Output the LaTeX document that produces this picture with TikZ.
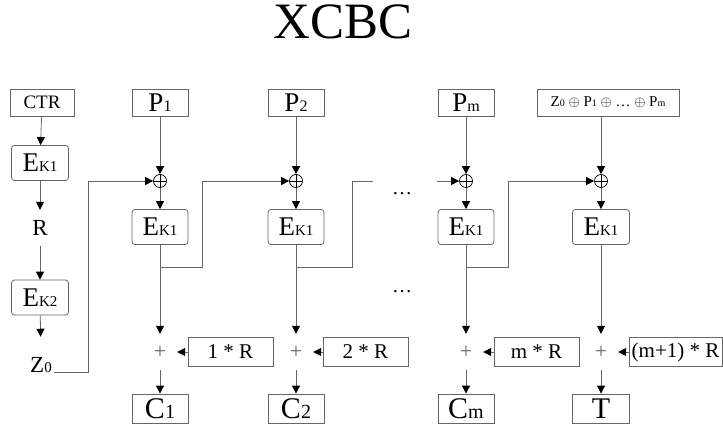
\documentclass[tikz,border=0pt]{standalone}
\usepackage{fontspec}
\setmainfont{Liberation Serif}
\usetikzlibrary{arrows.meta}
\newcommand{\fs}[1]{\fontsize{#1}{#1}\selectfont}
% letter with a small index set on the same baseline
\newcommand{\Ek}[1]{{\fs{27}E}{\fs{15}K#1}}
\newcommand{\Pt}[1]{{\fs{27}P}{\fs{16}#1}}
\newcommand{\Ct}[1]{{\fs{30}C}{\fs{20}#1}}
\newcommand{\zsub}[2]{{\fs{15}#1}{\fs{10}#2}}
\begin{document}
\begin{tikzpicture}[x=1pt,y=-1pt,
  wire/.style={draw=black!60, line width=0.8pt},
  arr/.style={wire, -{Triangle[length=8pt,width=8pt,color=black]}},
  sqbox/.style={draw=black!60, line width=0.8pt, inner sep=0pt, minimum height=27pt, minimum width=56pt},
  encbox/.style={draw=black!60, line width=0.8pt, rounded corners=3pt, inner sep=0pt, minimum width=57pt, minimum height=35pt},
  outbox/.style={sqbox, minimum height=29pt},
  multbox/.style={sqbox, minimum height=29pt, minimum width=85pt, font=\fs{21}},
  xor/.style={circle, draw=black, line width=0.7pt, minimum size=13pt, inner sep=0pt,
    path picture={\draw[line width=0.7pt] (path picture bounding box.north) -- (path picture bounding box.south)
      (path picture bounding box.west) -- (path picture bounding box.east);}},
  plusn/.style={minimum width=34pt, minimum height=36pt, inner sep=0pt, text=black!60, font=\fs{22}},
]
\path[use as bounding box] (0,0) rectangle (723,428);

\node[font=\fs{51}, anchor=base] (title) at (343,39) {XCBC};

% key derivation column
\node[sqbox, minimum width=64pt, font=\fs{19}] (ctr) at (42,102.5) {CTR};
\node[encbox] (ea) at (40,163) {\Ek1};
\node[font=\fs{23}, minimum height=36pt, inner sep=0pt] (r) at (40,228) {R};
\node[encbox] (eb) at (40,297.5) {\Ek2};
\node[inner sep=2pt, anchor=base] (z0) at (41,372) {{\fs{23}Z}{\fs{15}0}};
\draw[arr] (ctr) -- (ea);
\draw[arr] (ea) -- (r);
\draw[arr] (r) -- (eb);
\draw[arr, shorten >=18pt] (eb) -- (z0);

% block 1
\node[sqbox] (p1) at (160,102.5) {\Pt1};
\node[xor] (x1) at (160,181) {};
\node[encbox, minimum width=56pt] (e1) at (160,227) {\Ek1};
\node[plusn] (s1) at (160,352) {+};
\node[outbox] (c1) at (160,408.5) {\Ct1};
\node[multbox] (m1) at (230.5,352) {1 * R};

% block 2
\node[sqbox] (p2) at (296,102.5) {\Pt2};
\node[xor] (x2) at (296,181) {};
\node[encbox, minimum width=56pt] (e2) at (296,227) {\Ek1};
\node[plusn] (s2) at (296,352) {+};
\node[outbox] (c2) at (296,408.5) {\Ct2};
\node[multbox] (m2) at (365.5,352) {2 * R};

% block m
\node[sqbox] (pm) at (466,102.5) {\Pt{m}};
\node[xor] (xm) at (466,181) {};
\node[encbox, minimum width=56pt] (em) at (466,227) {\Ek1};
\node[plusn] (sm) at (466,352) {+};
\node[outbox] (cm) at (466,408.5) {\Ct{m}};
\node[multbox] (mm) at (536.5,352) {m * R};

% tag block
\node[sqbox, minimum width=142pt, font=\fs{15}] (zb) at (608,102.5)
  {\zsub Z0 $\oplus$ \zsub P1 $\oplus$ \dots{} $\oplus$ \zsub Pm};
\node[xor] (xt) at (601,181) {};
\node[encbox] (et) at (601,227) {\Ek1};
\node[plusn] (st) at (601,352) {+};
\node[outbox, minimum width=57pt] (tt) at (601,408.5) {{\fs{30}T}};
\node[multbox, minimum width=93pt] (mt) at (675.5,352) {(m+1) * R};

% ellipses
\node[font=\fs{20}, anchor=base, inner sep=0pt] (d1) at (402,194) {\dots};
\node[font=\fs{20}, anchor=base, inner sep=0pt] (d2) at (402,292) {\dots};

% vertical data path of each block
\foreach \p/\x/\e/\s/\c/\m in {p1/x1/e1/s1/c1/m1, p2/x2/e2/s2/c2/m2, pm/xm/em/sm/cm/mm} {
  \draw[arr] (\p) -- (\x);
  \draw[arr] (\x) -- (\e);
  \draw[arr] (\e) -- (\s);
  \draw[arr] (\s) -- (\c);
  \draw[arr] (\m) -- (\s);
}
\draw[arr] (zb.south -| xt) -- (xt);
\draw[arr] (xt) -- (et);
\draw[arr] (et) -- (st);
\draw[arr] (st) -- (tt);
\draw[arr] (mt) -- (st);

% chaining wires
\coordinate (tz) at (88,181);
\draw[arr] (z0.base east) -| (tz) -- (x1);
\coordinate (b1) at (160,267); \coordinate (t1) at (202,181);
\draw[arr] (b1) -| (t1) -- (x2);
\coordinate (b2) at (296,267); \coordinate (t2) at (352,181); \coordinate (g2) at (373,181);
\draw[wire] (b2) -| (t2) -- (g2);
\coordinate (gm) at (437,181);
\draw[arr] (gm) -- (xm);
\coordinate (bm) at (466,267); \coordinate (tm) at (508,181);
\draw[arr] (bm) -| (tm) -- (xt);
\end{tikzpicture}
\end{document}
